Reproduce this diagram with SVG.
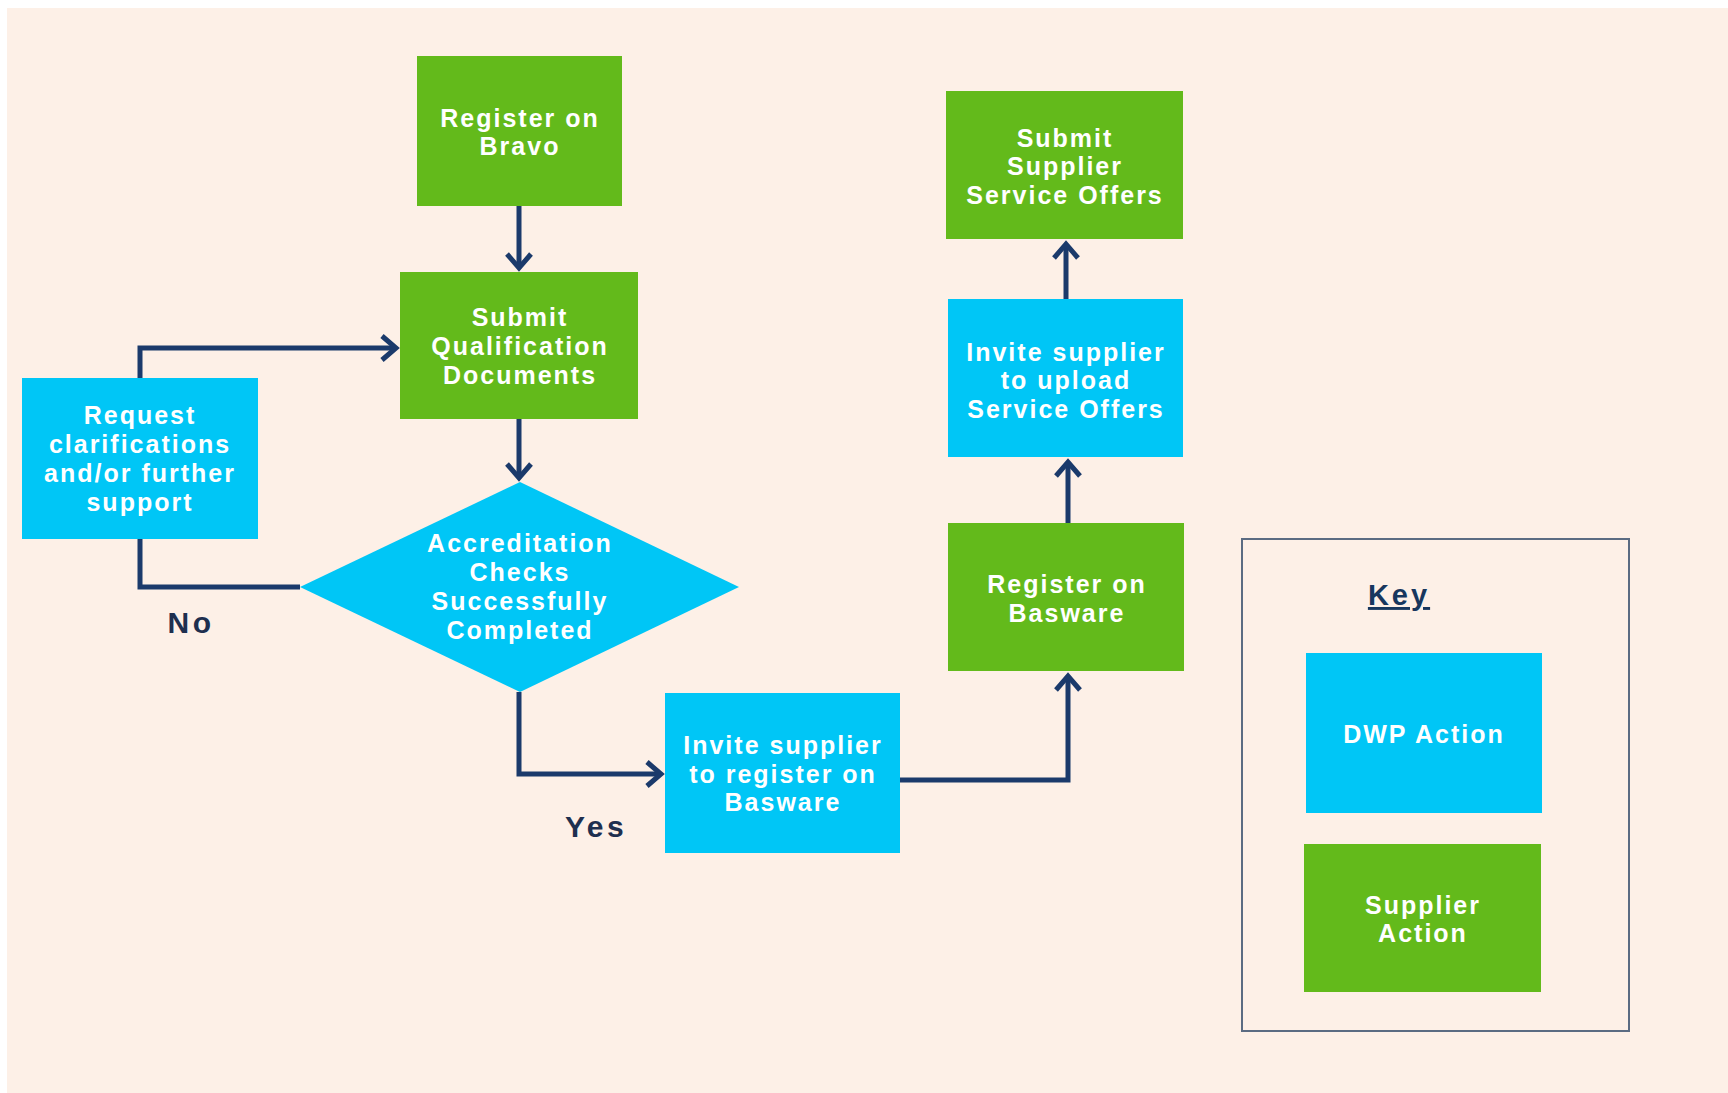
<svg xmlns="http://www.w3.org/2000/svg" width="1728" height="1093" viewBox="0 0 1728 1093">
<style>
.g{fill:#63BA1B}
.b{fill:#00C6F6}
.t{font-family:"Liberation Sans",Arial,sans-serif;font-size:25px;font-weight:bold;fill:#FFFFFF;text-anchor:middle;letter-spacing:2px}
.lbl{font-family:"Liberation Sans",Arial,sans-serif;font-size:30px;font-weight:bold;fill:#1E2F4F;text-anchor:middle;letter-spacing:3.5px}
.c{fill:none;stroke:#1B3A6B;stroke-width:5;stroke-linejoin:miter}
</style>
<defs>
<marker id="ah" markerUnits="userSpaceOnUse" viewBox="-22 -16 26 32" refX="0" refY="0" markerWidth="26" markerHeight="32" orient="auto" overflow="visible">
<path d="M-14,-12 L0,0 L-14,12" fill="none" stroke="#1B3A6B" stroke-width="5" stroke-linejoin="miter"/>
</marker>
</defs>
<rect x="0" y="0" width="1728" height="1093" fill="#FFFFFF"/>
<rect x="7" y="8" width="1721" height="1085" fill="#FDF0E7"/>

<g id="connectors">
<path class="c" d="M519,206 V268" marker-end="url(#ah)"/>
<path class="c" d="M519,419 V478" marker-end="url(#ah)"/>
<path class="c" d="M140,378 V348 H396" marker-end="url(#ah)"/>
<path class="c" d="M300,587 H140 V539"/>
<path class="c" d="M519,692 V774 H661" marker-end="url(#ah)"/>
<path class="c" d="M900,780 H1068 V676" marker-end="url(#ah)"/>
<path class="c" d="M1068,523 V462" marker-end="url(#ah)"/>
<path class="c" d="M1066,299 V244" marker-end="url(#ah)"/>
</g>

<g id="register-bravo">
<rect class="g" x="417" y="56" width="205" height="150"/>
<text class="t" x="520" y="127">Register on</text>
<text class="t" x="520" y="155">Bravo</text>
</g>

<g id="submit-qualification">
<rect class="g" x="400" y="272" width="238" height="147"/>
<text class="t" x="520" y="326">Submit</text>
<text class="t" x="520" y="355">Qualification</text>
<text class="t" x="520" y="384">Documents</text>
</g>

<g id="request-clarifications">
<rect class="b" x="22" y="378" width="236" height="161"/>
<text class="t" x="140" y="424">Request</text>
<text class="t" x="140" y="453">clarifications</text>
<text class="t" x="140" y="482">and/or further</text>
<text class="t" x="140" y="511">support</text>
</g>

<g id="accreditation-checks">
<polygon class="b" points="520,482 739,587 520,692 300,587"/>
<text class="t" x="520" y="552">Accreditation</text>
<text class="t" x="520" y="581">Checks</text>
<text class="t" x="520" y="610">Successfully</text>
<text class="t" x="520" y="639">Completed</text>
</g>

<g id="invite-register-basware">
<rect class="b" x="665" y="693" width="235" height="160"/>
<text class="t" x="783" y="754">Invite supplier</text>
<text class="t" x="783" y="783">to register on</text>
<text class="t" x="783" y="811">Basware</text>
</g>

<g id="register-basware">
<rect class="g" x="948" y="523" width="236" height="148"/>
<text class="t" x="1067" y="593">Register on</text>
<text class="t" x="1067" y="622">Basware</text>
</g>

<g id="invite-upload">
<rect class="b" x="948" y="299" width="235" height="158"/>
<text class="t" x="1066" y="361">Invite supplier</text>
<text class="t" x="1066" y="389">to upload</text>
<text class="t" x="1066" y="418">Service Offers</text>
</g>

<g id="submit-offers">
<rect class="g" x="946" y="91" width="237" height="148"/>
<text class="t" x="1065" y="147">Submit</text>
<text class="t" x="1065" y="175">Supplier</text>
<text class="t" x="1065" y="204">Service Offers</text>
</g>

<g id="label-no">
<text class="lbl" x="191" y="633">No</text>
</g>
<g id="label-yes">
<text class="lbl" x="596" y="837">Yes</text>
</g>

<g id="key">
<rect x="1242" y="539" width="387" height="492" fill="none" stroke="#5B6B82" stroke-width="2"/>
<text x="1399" y="605" font-family="Liberation Sans, Arial, sans-serif" font-size="29" font-weight="bold" fill="#17375E" text-anchor="middle" letter-spacing="3" text-decoration="underline">Key</text>
<g id="key-dwp">
<rect class="b" x="1306" y="653" width="236" height="160"/>
<text class="t" x="1424" y="743">DWP Action</text>
</g>
<g id="key-supplier">
<rect class="g" x="1304" y="844" width="237" height="148"/>
<text class="t" x="1423" y="914">Supplier</text>
<text class="t" x="1423" y="942">Action</text>
</g>
</g>
</svg>
